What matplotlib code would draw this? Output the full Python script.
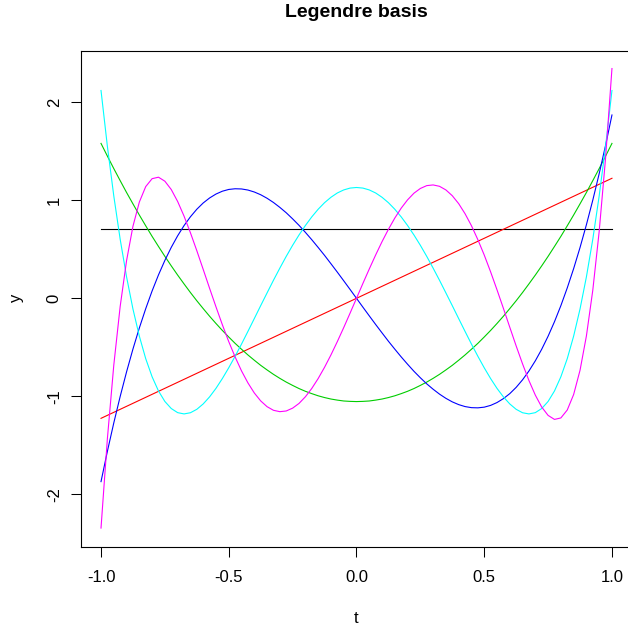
import matplotlib.pyplot as plt

plt.rcParams['font.family'] = ['Liberation Sans', 'DejaVu Sans']

# grid of t values, step 0.025
t = [-1.0, -0.975, -0.95, -0.925, -0.9, -0.875, -0.85, -0.825, -0.8, -0.775,
     -0.75, -0.725, -0.7, -0.675, -0.65, -0.625, -0.6, -0.575, -0.55, -0.525,
     -0.5, -0.475, -0.45, -0.425, -0.4, -0.375, -0.35, -0.325, -0.3, -0.275,
     -0.25, -0.225, -0.2, -0.175, -0.15, -0.125, -0.1, -0.075, -0.05, -0.025,
     0.0,
     0.025, 0.05, 0.075, 0.1, 0.125, 0.15, 0.175, 0.2, 0.225, 0.25,
     0.275, 0.3, 0.325, 0.35, 0.375, 0.4, 0.425, 0.45, 0.475, 0.5,
     0.525, 0.55, 0.575, 0.6, 0.625, 0.65, 0.675, 0.7, 0.725, 0.75,
     0.775, 0.8, 0.825, 0.85, 0.875, 0.9, 0.925, 0.95, 0.975, 1.0]

# order 0 and 1 are straight lines, only the end points are needed
t_ends = [-1.0, 1.0]
basis0 = [0.707, 0.707]
basis1 = [-1.225, 1.225]

basis2 = [1.581, 1.451, 1.324, 1.201, 1.080, 0.964, 0.850, 0.740, 0.632, 0.529,
          0.428, 0.331, 0.237, 0.147, 0.059, -0.025, -0.105, -0.183, -0.257, -0.328,
          -0.395, -0.460, -0.520, -0.578, -0.632, -0.684, -0.731, -0.776, -0.817, -0.855,
          -0.889, -0.921, -0.949, -0.973, -0.995, -1.013, -1.028, -1.039, -1.048, -1.052,
          -1.054,
          -1.052, -1.048, -1.039, -1.028, -1.013, -0.995, -0.973, -0.949, -0.921, -0.889,
          -0.855, -0.817, -0.776, -0.731, -0.684, -0.632, -0.578, -0.520, -0.460, -0.395,
          -0.328, -0.257, -0.183, -0.105, -0.025, 0.059, 0.147, 0.237, 0.331, 0.428,
          0.529, 0.632, 0.740, 0.850, 0.964, 1.080, 1.201, 1.324, 1.451, 1.581]

basis3 = [-1.871, -1.561, -1.272, -1.002, -0.751, -0.518, -0.303, -0.106, 0.075, 0.239,
          0.387, 0.520, 0.638, 0.742, 0.832, 0.909, 0.973, 1.024, 1.064, 1.093,
          1.111, 1.118, 1.116, 1.105, 1.085, 1.057, 1.021, 0.978, 0.928, 0.873,
          0.811, 0.745, 0.673, 0.598, 0.519, 0.438, 0.353, 0.267, 0.179, 0.090,
          0.0,
          -0.090, -0.179, -0.267, -0.353, -0.438, -0.519, -0.598, -0.673, -0.745, -0.811,
          -0.873, -0.928, -0.978, -1.021, -1.057, -1.085, -1.105, -1.116, -1.118, -1.111,
          -1.093, -1.064, -1.024, -0.973, -0.909, -0.832, -0.742, -0.638, -0.520, -0.387,
          -0.239, -0.075, 0.106, 0.303, 0.518, 0.751, 1.002, 1.272, 1.561, 1.871]

basis4 = [2.121, 1.550, 1.045, 0.603, 0.219, -0.109, -0.386, -0.616, -0.801, -0.946,
          -1.053, -1.125, -1.167, -1.180, -1.168, -1.133, -1.078, -1.006, -0.919, -0.819,
          -0.709, -0.591, -0.467, -0.338, -0.207, -0.075, 0.055, 0.184, 0.308, 0.428,
          0.541, 0.646, 0.743, 0.831, 0.909, 0.976, 1.031, 1.075, 1.106, 1.125,
          1.131,
          1.125, 1.106, 1.075, 1.031, 0.976, 0.909, 0.831, 0.743, 0.646, 0.541,
          0.428, 0.308, 0.184, 0.055, -0.075, -0.207, -0.338, -0.467, -0.591, -0.709,
          -0.819, -0.919, -1.006, -1.078, -1.133, -1.168, -1.180, -1.167, -1.125, -1.053,
          -0.946, -0.801, -0.616, -0.386, -0.109, 0.219, 0.603, 1.045, 1.550, 2.121]

basis5 = [-2.345, -1.431, -0.683, -0.083, 0.384, 0.735, 0.982, 1.140, 1.221, 1.236,
          1.195, 1.110, 0.988, 0.839, 0.669, 0.486, 0.295, 0.102, -0.087, -0.270,
          -0.442, -0.599, -0.741, -0.863, -0.966, -1.047, -1.106, -1.143, -1.157, -1.150,
          -1.121, -1.073, -1.005, -0.920, -0.819, -0.704, -0.578, -0.442, -0.299, -0.151,
          0.0,
          0.151, 0.299, 0.442, 0.578, 0.704, 0.819, 0.920, 1.005, 1.073, 1.121,
          1.150, 1.157, 1.143, 1.106, 1.047, 0.966, 0.863, 0.741, 0.599, 0.442,
          0.270, 0.087, -0.102, -0.295, -0.486, -0.669, -0.839, -0.988, -1.110, -1.195,
          -1.236, -1.221, -1.140, -0.982, -0.735, -0.384, 0.083, 0.683, 1.431, 2.345]

xticks = [-1.0, -0.5, 0.0, 0.5, 1.0]
xticklabels = ['-1.0', '-0.5', '0.0', '0.5', '1.0']
yticks = [-2, -1, 0, 1, 2]
yticklabels = ['-2', '-1', '0', '1', '2']

fig = plt.figure(figsize=(6.28, 6.26), dpi=100)
# the plot box runs a little past the right edge of the image
ax = fig.add_axes([0.1283, 0.1267, 0.8787, 0.7923])

lw = 0.8
ax.plot(t_ends, basis0, color='black', lw=lw)
ax.plot(t_ends, basis1, color='#FF0000', lw=lw)
ax.plot(t, basis2, color='#00CD00', lw=lw)
ax.plot(t, basis3, color='#0000FF', lw=lw)
ax.plot(t, basis4, color='#00FFFF', lw=lw)
ax.plot(t, basis5, color='#FF00FF', lw=lw)

ax.set_xlim(-1.08, 1.08)
ax.set_ylim(-2.535, 2.527)

ax.set_xticks(xticks)
ax.set_xticklabels(xticklabels)
ax.set_yticks(yticks)
ax.set_yticklabels(yticklabels)
ax.tick_params(direction='out', length=7, width=0.75, labelsize=12, color='black')
ax.tick_params(axis='x', pad=10)
ax.tick_params(axis='y', pad=6.5, labelrotation=90)
for lab in ax.get_yticklabels():
    lab.set_va('center')

for sp in ax.spines.values():
    sp.set_linewidth(0.8)
    sp.set_color('black')

ax.set_title('Legendre basis', fontsize=14, fontweight='bold', pad=24)
fig.text(356.5 / 628, 0.004, 't', fontsize=12, ha='center', va='baseline')
fig.text(16.7 / 628, 1 - 298 / 626, 'y', fontsize=12, ha='center', va='center', rotation=90)

fig.savefig('out.png', dpi=100)
